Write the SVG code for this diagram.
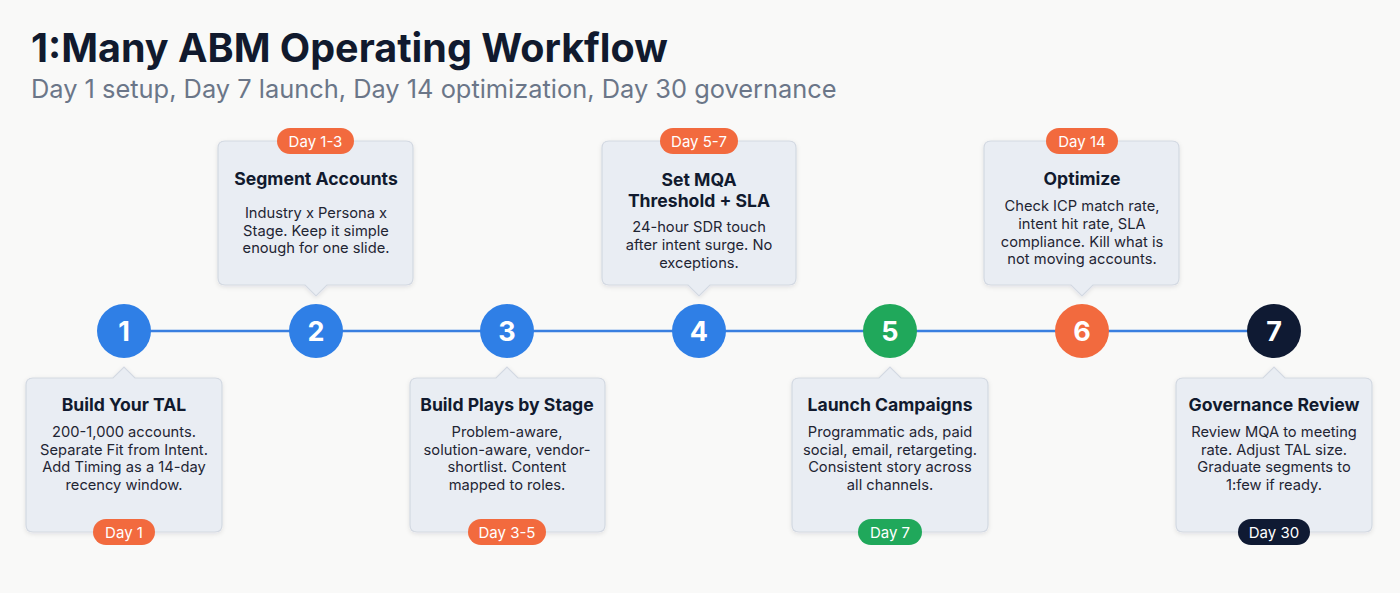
<svg xmlns="http://www.w3.org/2000/svg" width="1400" height="593" viewBox="0 0 1400 593">
<defs>
<filter id="sh" x="-10%" y="-10%" width="120%" height="130%"><feDropShadow dx="0" dy="1.5" stdDeviation="2" flood-color="#0f172a" flood-opacity="0.10"/></filter>
<style>
.card{fill:#e9edf3;stroke:#d3d9e2;stroke-width:1.2;}
.t{font-family:Inter,"Liberation Sans",sans-serif;font-weight:700;font-size:17.6px;fill:#111a2e;text-anchor:middle;}
.b{font-family:Inter,"Liberation Sans",sans-serif;font-size:14.7px;fill:#1f2533;text-anchor:middle;}
.bd{font-family:Inter,"Liberation Sans",sans-serif;font-size:15px;fill:#ffffff;text-anchor:middle;}
.n{font-family:Inter,"Liberation Sans",sans-serif;font-weight:700;font-size:27px;fill:#ffffff;text-anchor:middle;}
.blue{fill:#2f7fe6;}
.green{fill:#20a85b;}
.orange{fill:#f26a3e;}
.navy{fill:#0f1a33;}
</style>
</defs>
<rect width="1400" height="593" fill="#f9f9f8"/>
<text x="31" y="62" font-family="Inter,'Liberation Sans',sans-serif" font-weight="700" font-size="39.5" fill="#111a2e">1:Many ABM Operating Workflow</text>
<text x="31" y="98" font-family="Inter,'Liberation Sans',sans-serif" font-size="25.4" fill="#6b7688">Day 1 setup, Day 7 launch, Day 14 optimization, Day 30 governance</text>

<g id="connectors">
<line x1="124" y1="331" x2="1274" y2="331" stroke="#3a7fe0" stroke-width="2.5"/>
</g>

<g id="step1">
<path class="card" filter="url(#sh)" d="M33 378 H113 L124 367 L135 378 H215 Q222 378 222 385 V525 Q222 532 215 532 H33 Q26 532 26 525 V385 Q26 378 33 378 Z"/>
<circle class="blue" cx="124" cy="331" r="27"/>
<text class="n" x="124" y="341">1</text>
<text class="t" x="124" y="411">Build Your TAL</text>
<text class="b" x="124" y="437">200-1,000 accounts.</text>
<text class="b" x="124" y="455">Separate Fit from Intent.</text>
<text class="b" x="124" y="472">Add Timing as a 14-day</text>
<text class="b" x="124" y="490">recency window.</text>
<rect class="orange" x="93" y="519" width="62" height="26" rx="13"/>
<text class="bd" x="124" y="537.5">Day 1</text>
</g>

<g id="step2">
<path class="card" filter="url(#sh)" d="M225 141 H406 Q413 141 413 148 V278 Q413 285 406 285 H327 L316 296 L305 285 H225 Q218 285 218 278 V148 Q218 141 225 141 Z"/>
<circle class="blue" cx="316" cy="331" r="27"/>
<text class="n" x="316" y="341">2</text>
<rect class="orange" x="277" y="128" width="77" height="26" rx="13"/>
<text class="bd" x="315.5" y="146.5">Day 1-3</text>
<text class="t" x="316" y="185">Segment Accounts</text>
<text class="b" x="316" y="218">Industry x Persona x</text>
<text class="b" x="316" y="236">Stage. Keep it simple</text>
<text class="b" x="316" y="253">enough for one slide.</text>
</g>

<g id="step3">
<path class="card" filter="url(#sh)" d="M417 378 H496 L507 367 L518 378 H598 Q605 378 605 385 V525 Q605 532 598 532 H417 Q410 532 410 525 V385 Q410 378 417 378 Z"/>
<circle class="blue" cx="507" cy="331" r="27"/>
<text class="n" x="507" y="341">3</text>
<text class="t" x="507" y="411">Build Plays by Stage</text>
<text class="b" x="507" y="437">Problem-aware,</text>
<text class="b" x="507" y="455">solution-aware, vendor-</text>
<text class="b" x="507" y="472">shortlist. Content</text>
<text class="b" x="507" y="490">mapped to roles.</text>
<rect class="orange" x="468" y="519" width="78" height="26" rx="13"/>
<text class="bd" x="507" y="537.5">Day 3-5</text>
</g>

<g id="step4">
<path class="card" filter="url(#sh)" d="M609 141 H789 Q796 141 796 148 V278 Q796 285 789 285 H710 L699 296 L688 285 H609 Q602 285 602 278 V148 Q602 141 609 141 Z"/>
<circle class="blue" cx="699" cy="331" r="27"/>
<text class="n" x="699" y="341">4</text>
<rect class="orange" x="660" y="128" width="78" height="26" rx="13"/>
<text class="bd" x="699" y="146.5">Day 5-7</text>
<text class="t" x="699" y="186">Set MQA</text>
<text class="t" x="699" y="207">Threshold + SLA</text>
<text class="b" x="699" y="232">24-hour SDR touch</text>
<text class="b" x="699" y="250">after intent surge. No</text>
<text class="b" x="699" y="268">exceptions.</text>
</g>

<g id="step5">
<path class="card" filter="url(#sh)" d="M799 378 H879 L890 367 L901 378 H981 Q988 378 988 385 V525 Q988 532 981 532 H799 Q792 532 792 525 V385 Q792 378 799 378 Z"/>
<circle class="green" cx="890" cy="331" r="27"/>
<text class="n" x="890" y="341">5</text>
<text class="t" x="890" y="411">Launch Campaigns</text>
<text class="b" x="890" y="437">Programmatic ads, paid</text>
<text class="b" x="890" y="455">social, email, retargeting.</text>
<text class="b" x="890" y="472">Consistent story across</text>
<text class="b" x="890" y="490">all channels.</text>
<rect class="green" x="858" y="519" width="64" height="26" rx="13"/>
<text class="bd" x="890" y="537.5">Day 7</text>
</g>

<g id="step6">
<path class="card" filter="url(#sh)" d="M991 141 H1172 Q1179 141 1179 148 V278 Q1179 285 1172 285 H1093 L1082 296 L1071 285 H991 Q984 285 984 278 V148 Q984 141 991 141 Z"/>
<circle class="orange" cx="1082" cy="331" r="27"/>
<text class="n" x="1082" y="341">6</text>
<rect class="orange" x="1046" y="128" width="72" height="26" rx="13"/>
<text class="bd" x="1082" y="146.5">Day 14</text>
<text class="t" x="1082" y="185">Optimize</text>
<text class="b" x="1082" y="211">Check ICP match rate,</text>
<text class="b" x="1082" y="229">intent hit rate, SLA</text>
<text class="b" x="1082" y="247">compliance. Kill what is</text>
<text class="b" x="1082" y="264">not moving accounts.</text>
</g>

<g id="step7">
<path class="card" filter="url(#sh)" d="M1183 378 H1263 L1274 367 L1285 378 H1365 Q1372 378 1372 385 V525 Q1372 532 1365 532 H1183 Q1176 532 1176 525 V385 Q1176 378 1183 378 Z"/>
<circle class="navy" cx="1274" cy="331" r="27"/>
<text class="n" x="1274" y="341">7</text>
<text class="t" x="1274" y="411">Governance Review</text>
<text class="b" x="1274" y="437">Review MQA to meeting</text>
<text class="b" x="1274" y="455">rate. Adjust TAL size.</text>
<text class="b" x="1274" y="472">Graduate segments to</text>
<text class="b" x="1274" y="490">1:few if ready.</text>
<rect class="navy" x="1238" y="519" width="72" height="26" rx="13"/>
<text class="bd" x="1274" y="537.5">Day 30</text>
</g>
</svg>
